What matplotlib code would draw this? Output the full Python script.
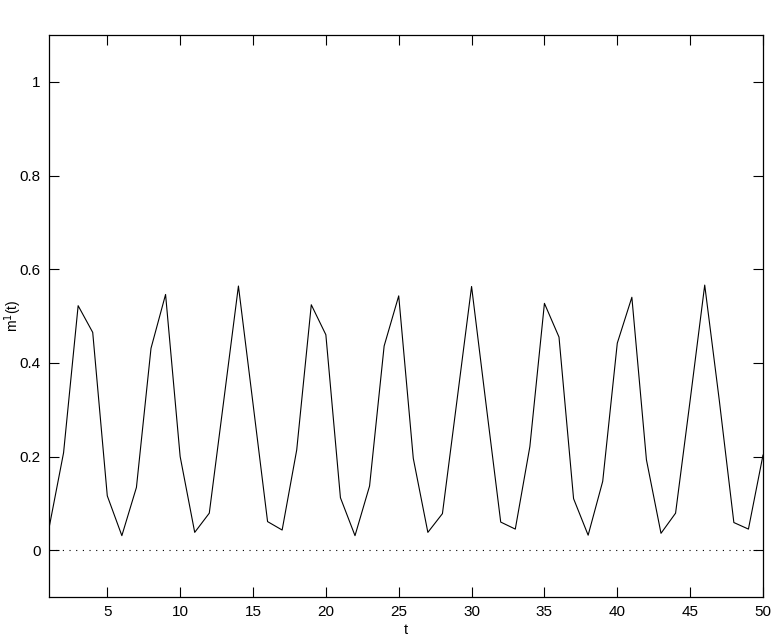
import matplotlib
matplotlib.use("Agg")
import matplotlib.pyplot as plt
import numpy as np

t = list(range(1, 51))
m1 = [0.047, 0.208, 0.522, 0.465, 0.116, 0.031, 0.134, 0.431, 0.546, 0.200,
      0.038, 0.079, 0.321, 0.564, 0.313, 0.061, 0.043, 0.214, 0.524, 0.460,
      0.112, 0.031, 0.137, 0.436, 0.543, 0.196, 0.038, 0.078, 0.320, 0.563,
      0.310, 0.060, 0.045, 0.221, 0.527, 0.455, 0.110, 0.032, 0.147, 0.442,
      0.540, 0.193, 0.036, 0.079, 0.320, 0.566, 0.320, 0.059, 0.045, 0.203]
xticks = [5, 10, 15, 20, 25, 30, 35, 40, 45, 50]
yticks = [0, 0.2, 0.4, 0.6, 0.8, 1]
ytick_labels = ["0", "0.2", "0.4", "0.6", "0.8", "1"]

plt.rcParams['font.family'] = ['Liberation Sans', 'DejaVu Sans']

fig = plt.figure(figsize=(7.79, 6.40), dpi=100)
ax = fig.add_axes([49/779, 1-597/640, (763-49)/779, (597-35)/640])

ax.plot(t, m1, color='black', linewidth=0.8)
ax.plot([1, 50], [0, 0], color='black', linewidth=0.8, linestyle=(0, (1, 5)))

ax.set_xlim(1, 50)
ax.set_ylim(-0.1, 1.1)
ax.set_xticks(xticks)
ax.set_xticklabels([str(x) for x in xticks])
ax.set_yticks(yticks)
ax.set_yticklabels(ytick_labels)
ax.tick_params(direction='in', length=7, width=0.8, top=True, right=True,
               labelsize=11, pad=6)
for s in ax.spines.values():
    s.set_linewidth(0.9)

ax.set_xlabel('t', fontsize=10.5)
ax.xaxis.set_label_coords(0.5, -0.058)
ax.xaxis.label.set_va('center')
ax.set_ylabel(r'm$^1$(t)', fontsize=10)
ax.yaxis.set_label_coords(-0.050, 0.5)
ax.yaxis.label.set_va('center')

fig.savefig('out.png', dpi=100)
